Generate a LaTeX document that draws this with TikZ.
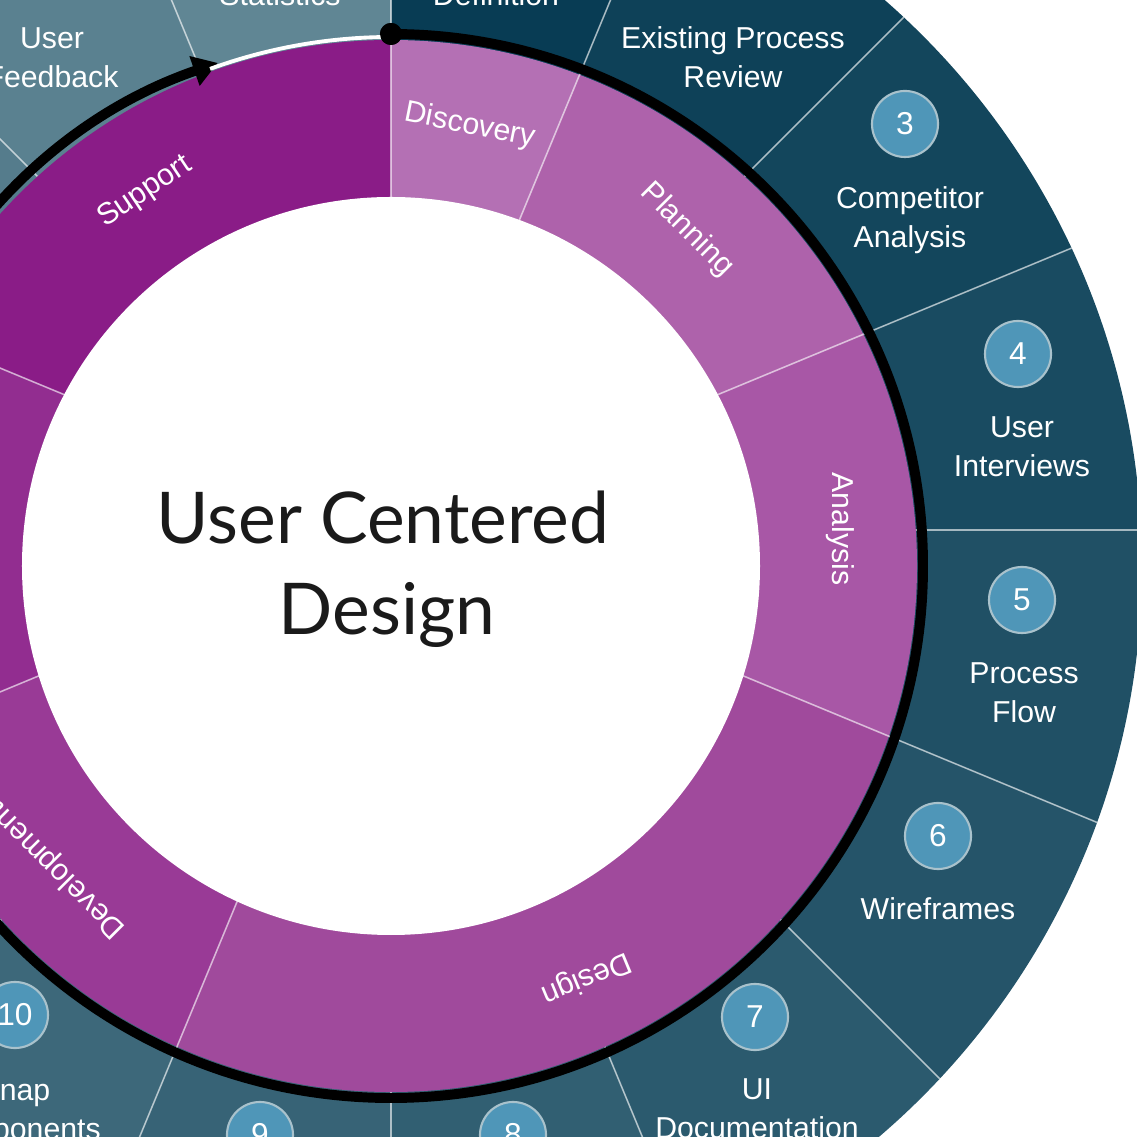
\documentclass[tikz,border=0pt]{standalone}
\usepackage{fontspec}
\setmainfont{Liberation Sans}
\newfontfamily\centerfont{Lato}
\usetikzlibrary{arrows.meta}

\definecolor{tealA}{RGB}{8,60,84}
\definecolor{tealB}{RGB}{96,134,148}
\definecolor{phDiscovery}{HTML}{B470B4}
\definecolor{phPlanning}{HTML}{AE62AB}
\definecolor{phAnalysis}{HTML}{A857A6}
\definecolor{phDesign}{HTML}{A04A9C}
\definecolor{phDevelopment}{HTML}{993A96}
\definecolor{phLeft}{HTML}{922D90}
\definecolor{phSupport}{HTML}{8A1C87}
\definecolor{numfill}{HTML}{4F96B8}
\definecolor{numring}{HTML}{A9C2CC}
\definecolor{centertext}{HTML}{1A1A1A}

\begin{document}
\begin{tikzpicture}[x=0.01cm,y=0.01cm,
  lbl/.style={text=white, font=\fontsize{8.6}{11}\selectfont, align=center, inner sep=0pt},
  phase/.style={text=white, font=\fontsize{8.6}{11}\selectfont, inner sep=0pt},
  num/.style={circle, fill=numfill, draw=numring, line width=0.6pt, minimum size=0.66cm, inner sep=0pt, text=white, font=\fontsize{9}{11}\selectfont},
  sep/.style={white, opacity=0.6, line width=0.45pt},
  ucd/.style={font=\centerfont\fontsize{20.3}{25}\selectfont, text=centertext, anchor=base, inner sep=0pt}]

\clip (-391,-571) rectangle (746,566);
\coordinate (C) at (0,0);
\coordinate (P) at (0,36);

% outer teal ring: 16 wedges radiating from P
\foreach \k in {0,...,15} {
  \pgfmathsetmacro{\a}{90-22.5*\k}
  \pgfmathsetmacro{\b}{90-22.5*(\k+1)}
  \pgfmathtruncatemacro{\m}{round(100-100*\k/15)}
  \begin{scope}[shift={(0,36)}]
    \clip (0,0) -- (\a:2000) -- (\b:2000) -- cycle;
    \fill[tealA!\m!tealB] (0,-36) circle[radius=751];
  \end{scope}
}
\begin{scope}
  \clip (C) circle[radius=751];
  \foreach \k in {0,...,15} {
    \pgfmathsetmacro{\a}{90-22.5*\k}
    \draw[sep] (P) -- ++(\a:800);
  }
\end{scope}

% purple phase ring
\foreach \s/\e/\c in {90/67.5/phDiscovery, 67.5/22.5/phPlanning, 22.5/-22.5/phAnalysis, -22.5/-112.5/phDesign, -112.5/-157.5/phDevelopment, -157.5/-202.5/phLeft, -202.5/-270/phSupport} {
  \begin{scope}[shift={(0,36)}]
    \clip (0,0) -- (\s:2000) -- (\e:2000) -- cycle;
    \fill[\c] (0,-36) circle[radius=526];
  \end{scope}
}
\begin{scope}
  \clip (C) circle[radius=526];
  \foreach \a in {90,67.5,22.5,-22.5,-112.5,-157.5,-202.5}
    \draw[sep] (P) -- ++(\a:600);
\end{scope}

% inner white disc
\fill[white] (C) circle[radius=369];

% cycle arrow
\node[circle, fill=black, minimum size=0.22cm, inner sep=0pt] (dot) at (0,532) {};
\draw[line width=2.83pt, -{Triangle[length=7pt,width=8.5pt]}] (dot.center) arc[start angle=90, end angle=-251, radius=532];
\draw[white, line width=1.1pt] (110:529) arc[start angle=110, end angle=90, radius=529];
\node[circle, fill=black, minimum size=0.22cm, inner sep=0pt] at (dot) {};

% centre title
\node[ucd] (ucd1) at (-8,22) {User Centered};
\node[ucd] (ucd2) at (-4,-69) {Design};

% phase labels
\node[phase, rotate=-11.25] (pDisc) at (79,440) {Discovery};
\node[phase, rotate=-45] (pPlan) at (296,336) {Planning};
\node[phase, rotate=-90] (pAna) at (449,37) {Analysis};
\node[phase, rotate=-157.5] (pDes) at (195,-412) {Design};
\node[phase, rotate=135] (pDev) at (-333,-304) {Development};
\node[phase, rotate=33.75] (pSup) at (-246,374) {Support};

% step numbers
\node[num] (n3) at (514,442) {3};
\node[num] (n4) at (627,212) {4};
\node[num] (n5) at (631,-34) {5};
\node[num] (n6) at (547,-270) {6};
\node[num] (n7) at (364,-451) {7};
\node[num] (n8) at (122,-569) {8};
\node[num] (n9) at (-131,-569) {9};
\node[num] (n10) at (-376,-449) {10};

% step labels
\node[lbl] (lStat) at (-111,571) {Statistics};
\node[lbl] (lDef) at (105,571) {Definition};
\node[lbl] (lFeed) at (-339,508.5) {User\\Feedback};
\node[lbl] (lExist) at (342,508.5) {Existing Process\\Review};
\node[lbl] (lComp) at (519,345.5) {Competitor\\Analysis};
\node[lbl] (lInt) at (631,119.5) {User\\Interviews};
\node[lbl] (lFlow) at (633,-126.5) {Process\\Flow};
\node[lbl] (lWire) at (547,-343) {Wireframes};
\node[lbl] (lUI) at (366,-543) {UI\\Documentation};
\node[lbl] (lSnap) at (-376,-546.5) {Snap\\Components};
\end{tikzpicture}
\end{document}
